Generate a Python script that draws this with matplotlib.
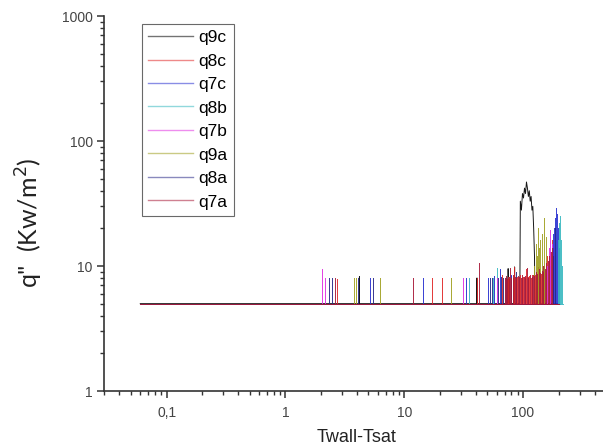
import matplotlib
matplotlib.use("Agg")
import matplotlib.pyplot as plt
import numpy as np

# baseline heat flux shared by every run
base = 5.0
x_start = 0.06

names = ['q9c', 'q8c', 'q7c', 'q8b', 'q7b', 'q9a', 'q8a', 'q7a']
colors = ['#000000', '#e02828', '#2830d0', '#38b8c0', '#e030e0', '#a0a020', '#282888', '#a81838']

# q9c is drawn as an explicit trace (plateau near 100)
q9c_x = [0.06, 4.2, 4.2, 4.2, 41, 41, 41, 75, 75, 75, 85, 85, 85, 94, 95, 97, 99, 101, 103, 105,
         107, 109, 111, 113, 115, 117, 119, 121, 123, 125, 126, 200]
q9c_y = [5, 5, 8.2, 5, 5, 8, 5, 5, 9.5, 5, 5, 9.8, 5, 5, 33, 28, 38, 35, 42, 38,
         47, 42, 36, 40, 33, 36, 28, 30, 20, 12, 5, 5]

# the other runs: spike positions and their peak values
q8c_sx = [2.7, 17.3, 21, 41, 66, 71, 73, 75, 77, 79, 82, 84, 87, 89, 92, 95, 98, 101, 104, 107, 110,
          113, 116, 119, 123, 127, 130, 134, 138, 142, 146, 151, 155, 160, 164, 169, 174, 179]
q8c_sy = [7.8, 8, 8, 8, 8.5, 8, 7.8, 8.2, 7.9, 8.3, 8, 9.8, 8, 8.2, 7.9, 8.4, 8, 8.2, 8, 9.5, 8.1,
          8.3, 8, 8.4, 8.1, 8.5, 8.2, 9.8, 8.4, 8.6, 9, 10, 10.5, 12, 11, 13, 16, 14]
q7c_sx = [5.2, 14.5, 33, 51, 57, 64, 72, 80, 170, 176, 180, 183, 186, 190, 194, 198, 202]
q7c_sy = [8, 8, 8, 8, 8.3, 9.5, 8, 8.5, 10, 12, 18, 20, 24, 29, 26, 20, 14]
q8b_sx = [35, 56, 60, 70, 196, 200, 203, 206, 210, 214]
q8b_sy = [8, 8, 9.7, 8, 16, 22, 20, 25, 16, 10]
q7b_sx = [2.05, 2.15, 31, 60, 155, 160, 165, 170, 174]
q7b_sy = [9.5, 8, 8, 8, 11, 10, 14, 19.5, 15]
q9a_sx = [3.75, 3.9, 6.2, 25, 125, 128, 131, 134, 137, 140, 145, 150, 155]
q9a_sy = [8, 8, 8, 8, 10, 15, 12, 20, 14, 16, 18, 24, 17]
q8a_sx = [2.35, 2.45, 4.1, 5.5, 53, 55, 62, 65, 68, 88, 180, 185]
q8a_sy = [8, 8, 8, 8, 8, 8, 8, 8.2, 8, 9, 12, 20]
q7a_sx = [2.6, 11.9, 43, 70, 72, 74, 76, 78, 80, 83, 85, 88, 90, 93, 96, 99, 102, 105, 108, 111, 114,
          118, 121, 125, 128, 132, 136, 140, 144, 148, 153, 157, 162, 167, 172, 177]
q7a_sy = [8, 8, 10.5, 8, 8.3, 7.9, 8.2, 9.7, 8, 8.4, 8.1, 8, 8.3, 8.2, 8, 8.5, 8.1, 8.3, 9.6, 8, 8.4,
          8.2, 8.5, 8.3, 9, 8.6, 9.5, 8.8, 9.2, 10, 9.5, 10.5, 11, 12, 13, 14]
q7a_end = 200


def spike_trace(sx, sy, end):
    xs, ys = [x_start], [base]
    for px, py in zip(sx, sy):
        xs += [px, px, px]
        ys += [base, py, base]
    xs.append(end)
    ys.append(base)
    return xs, ys


traces = [
    (q9c_x, q9c_y),
    spike_trace(q8c_sx, q8c_sy, 200),
    spike_trace(q7c_sx, q7c_sy, 205),
    spike_trace(q8b_sx, q8b_sy, 216),
    spike_trace(q7b_sx, q7b_sy, 200),
    spike_trace(q9a_sx, q9a_sy, 200),
    spike_trace(q8a_sx, q8a_sy, 200),
    spike_trace(q7a_sx, q7a_sy, q7a_end),
]

fig = plt.figure(figsize=(6.03, 4.46), dpi=100)
ax = fig.add_axes([0.1733, 0.1233, 0.891, 0.8408])

for (xs, ys), name, c in zip(traces, names, colors):
    ax.plot(xs, ys, color=c, lw=0.7, alpha=0.9, label=name)

ax.set_xscale('log')
ax.set_yscale('log')
ax.set_xlim(0.03, 1000)
ax.set_ylim(1, 1000)

ax.spines['top'].set_visible(False)
ax.spines['right'].set_visible(False)
ax.spines['left'].set_color('#333333')
ax.spines['bottom'].set_color('#333333')
ax.spines['left'].set_linewidth(1.2)
ax.spines['bottom'].set_linewidth(1.2)

ax.set_xticks([0.1, 1, 10, 100])
ax.set_xticklabels(['0,1', '1', '10', '100'])
ax.set_yticks([1, 10, 100, 1000])
ax.set_yticklabels(['1', '10', '100', '1000'])
ax.tick_params(which='major', direction='out', length=5, width=1.1, color='#333333',
               labelsize=10, labelcolor='#444444')
ax.tick_params(axis='x', which='major', pad=6)
ax.tick_params(which='minor', direction='out', length=3, width=1.0, color='#333333')
for lab in ax.get_xticklabels() + ax.get_yticklabels():
    lab.set_family('Liberation Sans')

ax.set_xlabel('Twall-Tsat', fontsize=13, family='Liberation Sans', color='#222222')
ax.xaxis.set_label_coords(0.47, -0.1)
ax.set_ylabel('q"  (Kw/m$^2$)', fontsize=18, family='Lato', color='#222222')
ax.yaxis.set_label_coords(-0.11, 0.45)

leg = ax.legend(loc='upper left', bbox_to_anchor=(0.0698, 0.979), borderaxespad=0, frameon=True,
                fancybox=False, edgecolor='#444444', handlelength=2.6, handletextpad=0.3,
                labelspacing=0.48, borderpad=0.35, prop={'family': 'Liberation Sans', 'size': 12.5})
leg.get_frame().set_linewidth(0.8)
for h in leg.get_lines():
    h.set_linewidth(1.0)
    h.set_alpha(0.55)

fig.savefig('out.png', dpi=100)
